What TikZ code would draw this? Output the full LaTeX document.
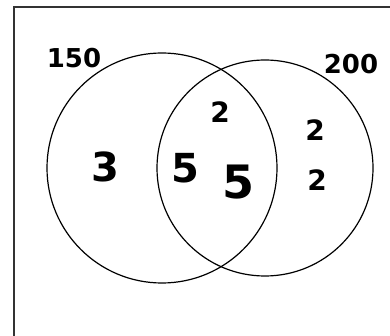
\documentclass[tikz,border=0pt]{standalone}
\usepackage{fontspec}
\setmainfont{DejaVu Sans}
\begin{document}
\begin{tikzpicture}[x=1pt,y=-1pt,
  setcircle/.style={circle,draw=black,line width=1.2pt,inner sep=0pt},
  num/.style={inner sep=0pt,font=\bfseries},
  frame/.style={draw=black!80,line width=2pt}]
\useasboundingbox (0,0) rectangle (390,336);
\coordinate (fb) at (13.5,340);
\coordinate (ft) at (13.5,7.5);
\coordinate (fr) at (395,7.5);
\draw[frame] (fb) -- (ft) -- (fr);
\node[setcircle,minimum size=230pt] (A) at (162,168) {};
\node[setcircle,minimum size=216pt] (B) at (265,168) {};
\node[num,font=\bfseries\fontsize{26}{26}\selectfont] (la) at (74,58) {150};
\node[num,font=\bfseries\fontsize{26}{26}\selectfont] (lb) at (351,64) {200};
\node[num,font=\bfseries\fontsize{28}{28}\selectfont] (n1) at (220,112) {2};
\node[num,font=\bfseries\fontsize{40}{40}\selectfont] (n2) at (105,167) {3};
\node[num,font=\bfseries\fontsize{40}{40}\selectfont] (n3) at (185,168) {5};
\node[num,font=\bfseries\fontsize{46}{46}\selectfont] (n4) at (238,182) {5};
\node[num,font=\bfseries\fontsize{28}{28}\selectfont] (n5) at (315,130) {2};
\node[num,font=\bfseries\fontsize{28}{28}\selectfont] (n6) at (317,180) {2};
\end{tikzpicture}
\end{document}
